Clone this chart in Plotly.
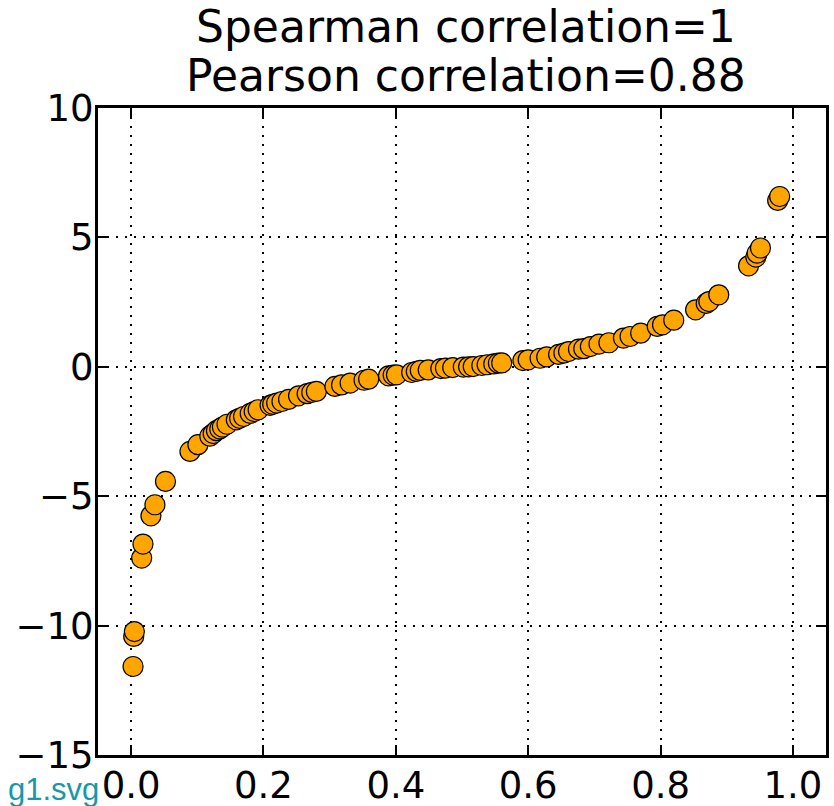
import plotly.graph_objects as go

x_vals = [0.003, 0.004, 0.005, 0.016, 0.018, 0.030, 0.036, 0.052, 0.089, 0.101,
          0.119, 0.124, 0.129, 0.134, 0.138, 0.145, 0.159, 0.164, 0.170, 0.180,
          0.186, 0.192, 0.210, 0.214, 0.220, 0.228, 0.238, 0.253, 0.266, 0.273,
          0.280, 0.308, 0.318, 0.331, 0.352, 0.359, 0.389, 0.396, 0.401, 0.424,
          0.431, 0.437, 0.449, 0.468, 0.475, 0.486, 0.502, 0.510, 0.517, 0.530,
          0.538, 0.548, 0.555, 0.560, 0.592, 0.600, 0.618, 0.628, 0.646, 0.654,
          0.661, 0.676, 0.684, 0.694, 0.707, 0.722, 0.744, 0.754, 0.770, 0.795,
          0.803, 0.820, 0.853, 0.869, 0.873, 0.888, 0.933, 0.944, 0.946, 0.951,
          0.977, 0.980]
y_vals = [-11.58, -10.42, -10.23, -7.39, -6.85, -5.76, -5.33, -4.43, -3.27, -3.01,
          -2.68, -2.58, -2.47, -2.40, -2.33, -2.22, -2.05, -1.99, -1.92, -1.80,
          -1.73, -1.66, -1.49, -1.45, -1.40, -1.34, -1.26, -1.12, -1.04, -0.99,
          -0.95, -0.76, -0.70, -0.63, -0.52, -0.48, -0.35, -0.32, -0.31, -0.22,
          -0.18, -0.14, -0.12, -0.07, -0.05, -0.03, -0.01, 0.00, 0.01, 0.05,
          0.08, 0.11, 0.14, 0.15, 0.24, 0.27, 0.33, 0.38, 0.48, 0.53,
          0.59, 0.68, 0.70, 0.78, 0.88, 0.93, 1.11, 1.17, 1.30, 1.56,
          1.62, 1.80, 2.20, 2.45, 2.52, 2.78, 3.90, 4.24, 4.39, 4.59,
          6.43, 6.58]

x_ticks = [0.0, 0.2, 0.4, 0.6, 0.8, 1.0]
x_tick_text = ["0.0", "0.2", "0.4", "0.6", "0.8", "1.0"]
y_ticks = [-15, -10, -5, 0, 5, 10]
y_tick_text = ["\u221215", "\u221210", "\u22125", "0", "5", "10"]

title_lines = ["Spearman correlation=1", "Pearson correlation=0.88"]
file_label = "g1.svg"

fig = go.Figure()
fig.add_trace(go.Scatter(
    x=x_vals, y=y_vals, mode="markers",
    marker=dict(size=20, color="#FFA500", line=dict(color="black", width=1.2)),
    showlegend=False, cliponaxis=False,
))

axis_common = dict(
    showline=True, linecolor="black", linewidth=3, mirror="ticks",
    ticks="inside", ticklen=10, tickwidth=1.5, tickcolor="black",
    showgrid=True, gridcolor="black", gridwidth=2, griddash="2px,7px",
    zeroline=False, automargin=False,
    tickfont=dict(family="DejaVu Sans", size=37, color="black"),
)

fig.update_xaxes(range=[-0.05, 1.05], tickvals=x_ticks, ticktext=x_tick_text,
                 ticklabelstandoff=-4, **axis_common)
fig.update_yaxes(range=[-15, 10], tickvals=y_ticks, ticktext=y_tick_text,
                 ticklabelstandoff=-6, **axis_common)

fig.add_annotation(text=title_lines[0], xref="paper", yref="paper", x=0.505, y=1.126,
                   xanchor="center", yanchor="middle", showarrow=False,
                   font=dict(family="DejaVu Sans", size=44, color="black"))
fig.add_annotation(text=title_lines[1], xref="paper", yref="paper", x=0.505, y=1.050,
                   xanchor="center", yanchor="middle", showarrow=False,
                   font=dict(family="DejaVu Sans", size=44, color="black"))
fig.add_annotation(text=file_label, xref="paper", yref="paper", x=0.004, y=-0.053,
                   xanchor="right", yanchor="middle", showarrow=False,
                   font=dict(family="Liberation Sans", size=31, color="#1798AA"))

fig.update_layout(
    width=834, height=806,
    margin=dict(l=98, r=8, t=108, b=51),
    plot_bgcolor="white", paper_bgcolor="white",
)

fig.write_html("out.html")
